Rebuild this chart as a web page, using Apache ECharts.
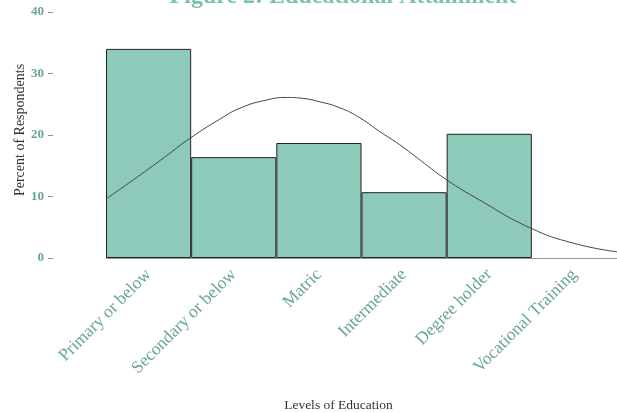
<!DOCTYPE html>
<html>
<head>
<meta charset="utf-8">
<script src="https://cdn.jsdelivr.net/npm/echarts@6/dist/echarts.min.js"></script>
<style>html,body{margin:0;padding:0;background:#fff}#c{width:617px;height:413px}</style>
</head>
<body>
<div id="c"></div>
<script>
var categories = ["Primary or below", "Secondary or below", "Matric", "Intermediate", "Degree holder", "Vocational Training"];
var percents = [34.0, 16.4, 18.7, 10.7, 20.2, 0];
var curveX = [-0.5, -0.18, 0.14, 0.49, 0.84, 1.08, 1.39, 1.63, 1.78, 2.01, 2.25, 2.48, 2.72, 2.95, 3.19, 3.49, 3.89, 4.48, 4.99, 5.5];
var curveY = [9.6, 12.7, 15.9, 19.5, 22.6, 24.4, 25.7, 26.1, 26.0, 25.4, 24.4, 22.8, 20.5, 18.4, 15.9, 12.8, 9.4, 4.9, 2.4, 1.0];
var yTicks = [0, 10, 20, 30, 40];

var serif = '"Liberation Serif", "Times New Roman", serif';
var curve = curveX.map(function (x, i) { return [x, curveY[i]]; });
var barData = percents.map(function (v) {
  return v === 0 ? {value: v, itemStyle: {borderWidth: 0}} : v;
});

var chart = echarts.init(document.getElementById('c'), null, {renderer: 'canvas'});
chart.setOption({
  animation: false,
  backgroundColor: '#ffffff',
  title: {
    text: 'Figure 2: Educational Attainment',
    left: 338, textAlign: 'center', top: -20,
    textStyle: {fontFamily: serif, fontSize: 24, fontWeight: 'bold', color: '#7cc3ae'}
  },
  grid: [
    {left: 106, right: 0, top: 12, bottom: 155, containLabel: false, outerBoundsMode: 'none'},
    {left: 53, width: 1, top: 12, bottom: 155, containLabel: false, outerBoundsMode: 'none'}
  ],
  xAxis: [{
    type: 'category',
    gridIndex: 0,
    data: categories,
    boundaryGap: true,
    name: 'Levels of Education',
    nameLocation: 'middle',
    nameGap: 140,
    nameTextStyle: {fontFamily: serif, fontSize: 13.5, color: '#333', padding: [0, 0, 0, -46]},
    axisLine: {lineStyle: {color: '#999', width: 1}},
    axisTick: {alignWithLabel: true, length: 6, lineStyle: {color: '#999'}},
    axisLabel: {rotate: 45, margin: 14, fontFamily: serif, fontSize: 17.5, color: '#6aa593'}
  }, {
    type: 'value', gridIndex: 0, min: -0.5, max: 5.5, show: false
  }, {
    type: 'value', gridIndex: 1, min: 0, max: 1, show: false
  }],
  yAxis: [{
    type: 'value', gridIndex: 0, min: 0, max: 40, interval: 10, show: false
  }, {
    type: 'value', gridIndex: 1, min: 0, max: 40, interval: 10,
    position: 'left',
    name: 'Percent of Respondents',
    nameLocation: 'middle',
    nameGap: 25,
    nameTextStyle: {fontFamily: serif, fontSize: 14, color: '#333', padding: [0, 0, 0, 10]},
    axisLine: {show: false},
    axisTick: {show: true, length: 5, lineStyle: {color: '#6aa593'}},
    splitLine: {show: false},
    axisLabel: {margin: 9, fontFamily: serif, fontSize: 13, fontWeight: 'bold', color: '#6aa593',
      formatter: function (v) { return yTicks.indexOf(v) >= 0 ? String(v) : ''; }}
  }],
  series: [{
    type: 'bar',
    xAxisIndex: 0, yAxisIndex: 0,
    data: barData,
    barCategoryGap: 0,
    barWidth: '100%',
    itemStyle: {color: '#8ecab9', borderColor: '#222', borderWidth: 1},
    z: 2
  }, {
    type: 'line',
    xAxisIndex: 1, yAxisIndex: 0,
    data: curve,
    smooth: true,
    showSymbol: false,
    symbol: 'none',
    lineStyle: {color: '#444', width: 1},
    z: 5
  }]
});
</script>
</body>
</html>
